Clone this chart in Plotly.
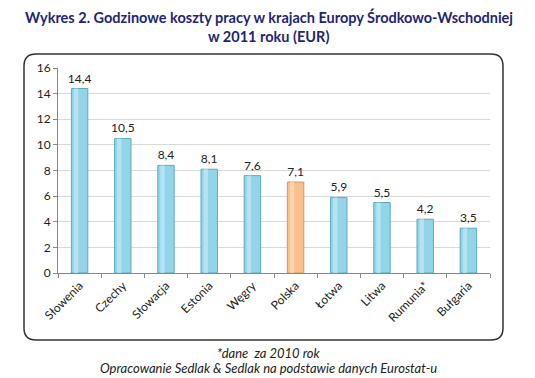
import plotly.graph_objects as go

countries = ["Słowenia", "Czechy", "Słowacja", "Estonia", "Węgry", "Polska",
             "Łotwa", "Litwa", "Rumunia*", "Bułgaria"]
costs = [14.4, 10.5, 8.4, 8.1, 7.6, 7.1, 5.9, 5.5, 4.2, 3.5]
labels = ["14,4", "10,5", "8,4", "8,1", "7,6", "7,1", "5,9", "5,5", "4,2", "3,5"]
highlight = "Polska"

# page body has an 8px margin, so the figure is drawn 8px smaller
W, H = 527, 370
L, R, T, B = 50, 45, 60, 105
pw, ph = W - L - R, H - T - B
FONT = "Lato"

fill = ["#F9BF8C" if c == highlight else "#93D4E8" for c in countries]
edge = ["#D9955B" if c == highlight else "#5FA9C0" for c in countries]
shine = ["#FCDDBE" if c == highlight else "#C4EAF5" for c in countries]

fig = go.Figure()
fig.add_trace(go.Bar(
    x=countries, y=costs, width=0.38,
    marker=dict(color=fill, line=dict(color=edge, width=1)),
    text=labels, textposition="outside", cliponaxis=False, constraintext="none",
    textfont=dict(family=FONT, size=12, color="#222222"),
    hoverinfo="skip",
))
fig.add_trace(go.Bar(
    x=countries, y=costs, width=0.1, offset=-0.13,
    marker=dict(color=shine, line=dict(width=0), opacity=0.7),
    hoverinfo="skip",
))

def px(x):
    return (x - L) / pw

def py(y):
    return (H - B - y) / ph

x0, x1, y0, y1, r = 16, 495, 46, 332, 12
path = (f"M {px(x0 + r)},{py(y0)} L {px(x1 - r)},{py(y0)} "
        f"Q {px(x1)},{py(y0)} {px(x1)},{py(y0 + r)} "
        f"L {px(x1)},{py(y1 - r)} Q {px(x1)},{py(y1)} {px(x1 - r)},{py(y1)} "
        f"L {px(x0 + r)},{py(y1)} Q {px(x0)},{py(y1)} {px(x0)},{py(y1 - r)} "
        f"L {px(x0)},{py(y0 + r)} Q {px(x0)},{py(y0)} {px(x0 + r)},{py(y0)} Z")

title_font = dict(family=FONT, size=14.5, color="#1F2676", weight="bold")
foot_font = dict(family=FONT, size=13, color="#222222")

def ann(text, ypix, font):
    return dict(text=text, x=px(W / 2 - 3), xref="paper", xanchor="center",
                y=py(ypix), yref="paper", yanchor="middle", showarrow=False,
                font=font)

fig.update_layout(
    width=W, height=H,
    margin=dict(l=L, r=R, t=T, b=B),
    paper_bgcolor="white", plot_bgcolor="white",
    barmode="overlay", showlegend=False,
    font=dict(family=FONT, size=12, color="#222222"),
    shapes=[dict(type="path", path=path, xref="paper", yref="paper",
                 line=dict(color="#333333", width=1.5), layer="below")],
    annotations=[
        ann("Wykres 2. Godzinowe koszty pracy w krajach Europy Środkowo-Wschodniej", 9, title_font),
        ann("w 2011 roku (EUR)", 28.5, title_font),
        ann("<i>*dane  za 2010 rok</i>", 345, foot_font),
        ann("<i>Opracowanie Sedlak &amp; Sedlak na podstawie danych Eurostat-u</i>", 360, foot_font),
    ],
)
fig.update_xaxes(
    tickangle=-45, showgrid=False, showline=True, linecolor="#888888",
    ticks="outside", tickson="boundaries", ticklen=4, tickcolor="#888888",
    tickfont=dict(size=12), fixedrange=True,
)
fig.update_yaxes(
    range=[0, 16], dtick=2, showgrid=True, gridcolor="#D9D9D9", gridwidth=1,
    showline=True, linecolor="#888888", ticks="outside", ticklen=4,
    tickcolor="#888888", tickfont=dict(size=12), zeroline=False,
)

fig.write_html("out.html")
